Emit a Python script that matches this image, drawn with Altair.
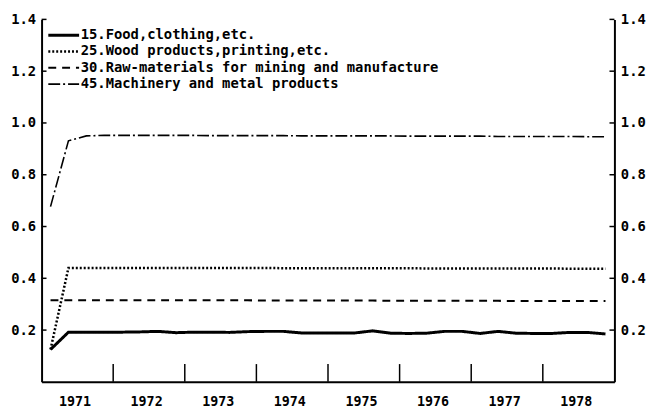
import altair as alt
import pandas as pd

years = list(range(1971, 1979))
quarters = [1, 2, 3, 4]

series_names = [
    "15.Food,clothing,etc.",
    "25.Wood products,printing,etc.",
    "30.Raw-materials for mining and manufacture",
    "45.Machinery and metal products",
]

food = [0.125, 0.192, 0.192, 0.192, 0.192, 0.193, 0.195, 0.190,
        0.192, 0.192, 0.191, 0.194, 0.195, 0.195, 0.189, 0.189,
        0.189, 0.189, 0.197, 0.188, 0.187, 0.188, 0.195, 0.195,
        0.187, 0.195, 0.188, 0.187, 0.187, 0.191, 0.191, 0.185]
wood = [0.125, 0.440, 0.440, 0.440, 0.440, 0.440, 0.440, 0.440,
        0.440, 0.440, 0.440, 0.440, 0.440, 0.439, 0.439, 0.439,
        0.439, 0.439, 0.439, 0.439, 0.439, 0.438, 0.438, 0.438,
        0.438, 0.438, 0.438, 0.438, 0.438, 0.437, 0.437, 0.437]
raw = [0.315, 0.315, 0.315, 0.315, 0.315, 0.315, 0.315, 0.315,
       0.315, 0.315, 0.315, 0.315, 0.314, 0.314, 0.314, 0.314,
       0.314, 0.314, 0.314, 0.313, 0.313, 0.313, 0.313, 0.313,
       0.313, 0.313, 0.312, 0.312, 0.312, 0.312, 0.312, 0.312]
mach = [0.677, 0.931, 0.950, 0.952, 0.952, 0.952, 0.952, 0.952,
        0.952, 0.951, 0.951, 0.951, 0.951, 0.951, 0.950, 0.950,
        0.950, 0.950, 0.950, 0.950, 0.949, 0.949, 0.949, 0.949,
        0.949, 0.948, 0.948, 0.948, 0.948, 0.948, 0.947, 0.947]

y_ticks = [0.2, 0.4, 0.6, 0.8, 1.0, 1.2, 1.4]
year_bounds = [1972, 1973, 1974, 1975, 1976, 1977, 1978]
year_label_pos = [y + 0.46 for y in years]

t_vals = [y + (q - 0.5) / 4 for y in years for q in quarters]
rows = []
for name, vals in zip(series_names, [food, wood, raw, mach]):
    for t, v in zip(t_vals, vals):
        rows.append({"t": t, "value": v, "series": name})
df = pd.DataFrame(rows)

W, H = 580, 367
FONT = "DejaVu Sans Mono"

xscale = alt.Scale(domain=[1971, 1979], nice=False, zero=False)
yscale = alt.Scale(domain=[0, 1.4], nice=False, zero=False)

x_axis = alt.Axis(values=year_label_pos, labelExpr="floor(datum.value)",
                  ticks=False, grid=False, title=None, labelFontSize=13.5,
                  labelFont=FONT, labelFontWeight="bold", labelPadding=13,
                  domainColor="black", domainWidth=2, labelColor="black")

lines = alt.Chart(df).mark_line(color="black", strokeCap="butt").encode(
    x=alt.X("t:Q", scale=xscale, axis=x_axis),
    y=alt.Y("value:Q", scale=yscale,
            axis=alt.Axis(values=y_ticks, format=".1f", ticks=False, grid=False,
                          title=None, labelFontSize=14, labelFont=FONT,
                          labelFontWeight="bold", labelPadding=6,
                          domainColor="black", domainWidth=2, labelColor="black")),
    strokeDash=alt.StrokeDash(
        "series:N",
        scale=alt.Scale(domain=series_names,
                        range=[[1, 0], [2, 2], [8, 6], [12, 3, 2, 3]]),
        legend=alt.Legend(title=None, orient="none", legendX=15.4, legendY=9,
                          symbolType="M-3,0H3", symbolSize=108,
                          symbolStrokeWidth=2, symbolStrokeColor="black",
                          labelFont=FONT, labelFontSize=14, labelFontWeight="bold",
                          labelOffset=10.2, labelLimit=0, padding=0, rowPadding=2.5,
                          labelColor="black")),
    strokeWidth=alt.StrokeWidth(
        "series:N",
        scale=alt.Scale(domain=series_names, range=[3.0, 1.6, 2.8, 2.4]),
        legend=None),
    detail="series:N",
)

ytick_df = pd.DataFrame({"v": y_ticks})
right_axis = alt.Chart(ytick_df).mark_rule(color="black", strokeWidth=1.5).encode(
    y=alt.Y("v:Q", scale=yscale,
            axis=alt.Axis(orient="right", values=y_ticks, format=".1f", ticks=False,
                          grid=False, title=None, labelFontSize=14, labelFont=FONT,
                          labelFontWeight="bold", labelPadding=6,
                          domainColor="black", domainWidth=2, labelColor="black")),
    x=alt.value(W - 5),
    x2=alt.value(W),
)
left_ticks = alt.Chart(ytick_df).mark_rule(color="black", strokeWidth=1.5).encode(
    y=alt.Y("v:Q", scale=yscale, axis=None),
    x=alt.value(0),
    x2=alt.value(5),
)

xtick_df = pd.DataFrame({"yr": year_bounds})
x_ticks = alt.Chart(xtick_df).mark_rule(color="black", strokeWidth=1.5).encode(
    x=alt.X("yr:Q", scale=xscale, axis=x_axis),
    y=alt.value(H - 18),
    y2=alt.value(H),
)

chart = alt.layer(lines, right_axis, left_ticks, x_ticks).resolve_scale(
    y="independent"
).properties(
    width=W, height=H,
    padding={"left": 34, "top": 9, "right": 34, "bottom": 30},
    autosize=alt.AutoSizeParams(type="none"),
    background="white",
).configure_view(stroke=None)

chart.save("out.html", embed_options={"renderer": "svg", "actions": False})
